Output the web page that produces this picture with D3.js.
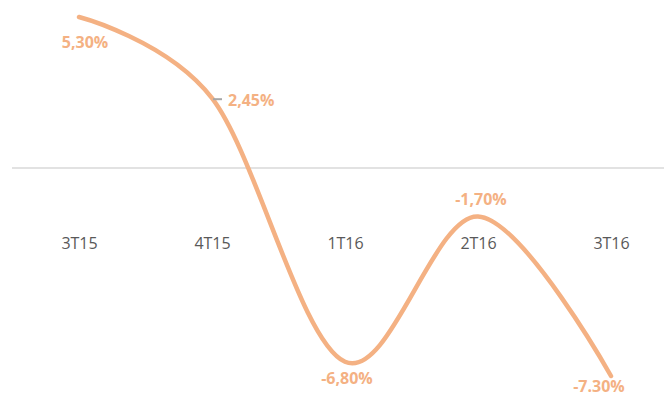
<!DOCTYPE html>
<html>
<head>
<meta charset="utf-8">
<script src="https://cdn.jsdelivr.net/npm/d3@7"></script>
<style>
  html, body { margin: 0; padding: 0; background: #fff; }
  svg { display: block; }
</style>
</head>
<body>
<svg id="chart" width="664" height="399"></svg>
<script>
// Quarterly change, in percent
const categories = ["3T15", "4T15", "1T16", "2T16", "3T16"];
const values = [5.30, 2.45, -6.80, -1.70, -7.30];
const valueLabels = ["5,30%", "2,45%", "-6,80%", "-1,70%", "-7.30%"];

const svg = d3.select("#chart");
const W = 664, H = 399;

const x = d3.scalePoint().domain(categories).range([79, 611]);
const y = d3.scaleLinear().domain([0, 5.30]).range([168, 17]);

const lineColor = "#F4B183";
const font = "'Open Sans', 'Liberation Sans', sans-serif";

// zero baseline
svg.append("line")
  .attr("x1", 12).attr("x2", W)
  .attr("y1", y(0)).attr("y2", y(0))
  .attr("stroke", "#d9d9d9").attr("stroke-width", 1.5);

// category axis labels, sitting below the baseline
const xAxis = d3.axisBottom(x).tickSize(0).tickPadding(0);
const gx = svg.append("g").attr("transform", `translate(0,${y(0) + 75})`).call(xAxis);
gx.select(".domain").remove();
gx.selectAll("text")
  .attr("fill", "#595959")
  .attr("font-family", font)
  .attr("font-size", 16)
  .attr("dy", "0.35em");

// smoothed series line
const data = categories.map((c, i) => ({ c, v: values[i], label: valueLabels[i] }));
const line = d3.line()
  .x(d => x(d.c))
  .y(d => y(d.v))
  .curve(d3.curveCatmullRom.alpha(0));

svg.append("path")
  .datum(data)
  .attr("d", line)
  .attr("fill", "none")
  .attr("stroke", lineColor)
  .attr("stroke-width", 4.5)
  .attr("stroke-linecap", "round");

// data labels: offset and anchor per point
const labelPos = [
  { dx: 6, dy: 31, anchor: "middle" },
  { dx: 16, dy: 8, anchor: "start" },
  { dx: 2, dy: 22, anchor: "middle" },
  { dx: 3, dy: -11, anchor: "middle" },
  { dx: -12, dy: 16, anchor: "middle" }
];

// leader line for the 4T15 label
svg.append("line")
  .attr("x1", x("4T15") + 1).attr("x2", x("4T15") + 10)
  .attr("y1", y(values[1]) + 1).attr("y2", y(values[1]) + 1)
  .attr("stroke", "#a6a6a6").attr("stroke-width", 2);

svg.selectAll("text.vlabel")
  .data(data)
  .enter().append("text")
  .attr("class", "vlabel")
  .attr("x", (d, i) => x(d.c) + labelPos[i].dx)
  .attr("y", (d, i) => y(d.v) + labelPos[i].dy)
  .attr("text-anchor", (d, i) => labelPos[i].anchor)
  .attr("fill", lineColor)
  .attr("font-family", font)
  .attr("font-weight", "bold")
  .attr("font-size", 16)
  .text(d => d.label);
</script>
</body>
</html>
